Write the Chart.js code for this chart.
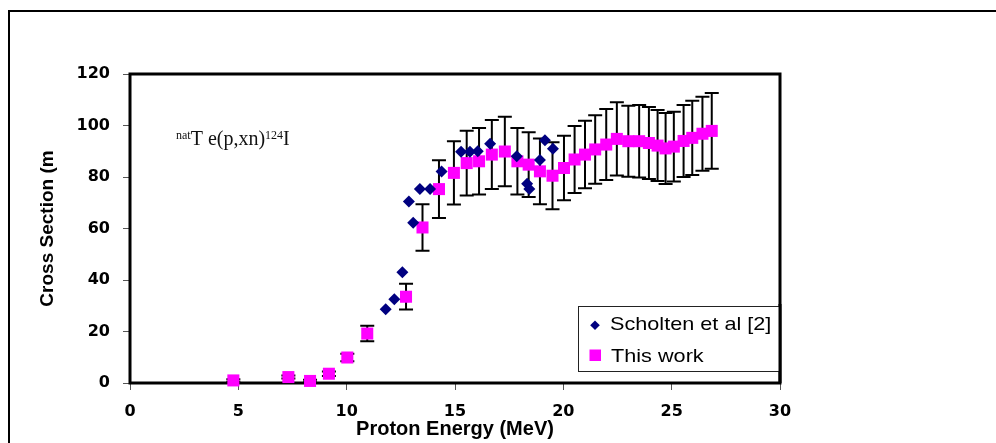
<!DOCTYPE html>
<html>
<head>
<meta charset="utf-8">
<script src="https://cdn.jsdelivr.net/npm/chart.js@4/dist/chart.umd.min.js"></script>
<style>
  html, body { margin: 0; padding: 0; background: #ffffff; overflow: hidden; }
  #wrap { position: relative; width: 996px; height: 443px; overflow: hidden; }
  canvas { display: block; }
</style>
</head>
<body>
<div id="wrap"><canvas id="c" width="996" height="443"></canvas></div>
<script>
// ---- data ----
const scholtenEnergy = [11.8, 12.2, 12.57, 12.87, 13.07, 13.38, 13.85, 14.38, 15.28, 15.69, 16.05, 16.62, 17.85, 18.33, 18.43, 18.92, 19.15, 19.52];
const scholtenXS     = [28.6, 32.5, 43.0, 70.5, 62.2, 75.3, 75.3, 82.1, 89.8, 89.8, 90.0, 92.9, 88.1, 77.4, 75.3, 86.6, 94.3, 91.0];

const thisWorkEnergy = [4.77, 7.31, 8.31, 9.18, 10.03, 10.95, 12.74, 13.5, 14.26, 14.95, 15.54, 16.11, 16.7, 17.3, 17.88, 18.4, 18.92, 19.5, 20.03, 20.52, 21.0, 21.47, 21.98, 22.47, 23.0, 23.5, 23.95, 24.35, 24.72, 25.1, 25.55, 25.95, 26.42, 26.85];
const thisWorkXS     = [1.0, 2.3, 0.8, 3.6, 9.9, 19.2, 33.5, 60.4, 75.3, 81.6, 85.4, 86.1, 88.7, 89.9, 86.1, 84.8, 82.2, 80.5, 83.5, 86.8, 88.7, 90.7, 92.6, 94.8, 93.9, 93.9, 93.2, 92.2, 91.1, 91.8, 94.0, 95.2, 96.8, 97.9];
const thisWorkErr    = [0.5, 0.6, 0.5, 0.9, 1.5, 3, 5, 9, 11.2, 12.3, 12.6, 12.9, 13.4, 13.5, 12.9, 12.6, 12.8, 13, 12.5, 13, 13.1, 13.3, 13.8, 14.2, 13.8, 14.1, 14, 13.8, 13.8, 13.5, 14, 14.4, 14.4, 14.7];

const seriesNames = ['Scholten et al [2]', 'This work'];
const xTitle = 'Proton Energy (MeV)';
const yTitle = 'Cross Section (m';
const reactionLabel = { pre: 'nat', main: 'T e(p,xn)', sup: '124', post: 'I' };

const NAVY = '#000080';
const MAGENTA = '#FF00FF';

function pts(xs, ys) { return xs.map((x, i) => ({ x: x, y: ys[i] })); }

// outer border + plot frame (under the marks)
const framePlugin = {
  id: 'frame',
  beforeDraw(chart) {
    const ctx = chart.ctx;
    ctx.save();
    ctx.fillStyle = '#ffffff';
    ctx.fillRect(0, 0, chart.width, chart.height);
    ctx.strokeStyle = '#000';
    ctx.lineWidth = 2;
    ctx.beginPath();
    ctx.moveTo(9, 460); ctx.lineTo(9, 11); ctx.lineTo(1010, 11);
    ctx.stroke();
    ctx.restore();
  },
  beforeDatasetsDraw(chart) {
    const ctx = chart.ctx, a = chart.chartArea;
    ctx.save();
    ctx.strokeStyle = '#000';
    ctx.lineWidth = 3;
    ctx.strokeRect(a.left, a.top, a.right - a.left, a.bottom - a.top);
    ctx.restore();
  }
};

// error bars for "This work", drawn below its markers
const errorBarPlugin = {
  id: 'errorBars',
  beforeDatasetDraw(chart, args) {
    if (args.index !== 1) return;
    const ctx = chart.ctx, xs = chart.scales.x, ys = chart.scales.y;
    ctx.save();
    ctx.strokeStyle = '#000';
    ctx.lineWidth = 2;
    thisWorkEnergy.forEach((e, i) => {
      const px = xs.getPixelForValue(e);
      const top = ys.getPixelForValue(thisWorkXS[i] + thisWorkErr[i]);
      const bot = ys.getPixelForValue(thisWorkXS[i] - thisWorkErr[i]);
      ctx.beginPath();
      ctx.moveTo(px, top); ctx.lineTo(px, bot);
      ctx.moveTo(px - 7, top); ctx.lineTo(px + 7, top);
      ctx.moveTo(px - 7, bot); ctx.lineTo(px + 7, bot);
      ctx.stroke();
    });
    ctx.restore();
  }
};

// reaction label + legend box
const overlayPlugin = {
  id: 'overlay',
  afterDraw(chart) {
    const ctx = chart.ctx;
    ctx.save();
    // reaction label
    ctx.fillStyle = '#111';
    ctx.textBaseline = 'alphabetic';
    ctx.textAlign = 'left';
    let x = 176;
    ctx.font = '12px "Liberation Serif", "Times New Roman", serif';
    ctx.fillText(reactionLabel.pre, x, 139);
    x += ctx.measureText(reactionLabel.pre).width;
    ctx.font = '20px "Liberation Serif", "Times New Roman", serif';
    ctx.fillText(reactionLabel.main, x, 145);
    x += ctx.measureText(reactionLabel.main).width;
    ctx.font = '12px "Liberation Serif", "Times New Roman", serif';
    ctx.fillText(reactionLabel.sup, x, 139);
    x += ctx.measureText(reactionLabel.sup).width;
    ctx.font = '20px "Liberation Serif", "Times New Roman", serif';
    ctx.fillText(reactionLabel.post, x, 145);

    // legend
    const L = 578, T = 306, R = 780, B = 372;
    ctx.fillStyle = '#fff';
    ctx.fillRect(L, T, R - L, B - T);
    ctx.strokeStyle = '#222';
    ctx.lineWidth = 1;
    ctx.strokeRect(L + 0.5, T + 0.5, R - L - 1, B - T - 1);
    // right frame edge redrawn over legend
    ctx.strokeStyle = '#000';
    ctx.lineWidth = 3;
    ctx.beginPath(); ctx.moveTo(chart.chartArea.right, T - 2); ctx.lineTo(chart.chartArea.right, chart.chartArea.bottom); ctx.stroke();

    // diamond marker
    ctx.fillStyle = NAVY;
    ctx.beginPath();
    ctx.moveTo(595, 320.5); ctx.lineTo(599.8, 325.3); ctx.lineTo(595, 330.1); ctx.lineTo(590.2, 325.3);
    ctx.closePath(); ctx.fill();
    // square marker
    ctx.fillStyle = MAGENTA;
    ctx.fillRect(589.5, 349.5, 11.5, 11.5);

    ctx.fillStyle = '#000';
    ctx.font = '19px "Liberation Sans", Arial, sans-serif';
    ctx.save();
    ctx.translate(610, 329.5);
    ctx.scale(1.14, 1);
    ctx.fillText(seriesNames[0], 0, 0);
    ctx.restore();
    ctx.save();
    ctx.translate(611, 361.8);
    ctx.scale(1.14, 1);
    ctx.fillText(seriesNames[1], 0, 0);
    ctx.restore();
    ctx.restore();
  }
};

const tickFont = { family: '"DejaVu Sans", sans-serif', size: 16, weight: 'bold' };

new Chart(document.getElementById('c'), {
  type: 'scatter',
  data: {
    datasets: [
      {
        label: seriesNames[0],
        data: pts(scholtenEnergy, scholtenXS),
        pointStyle: 'rectRot',
        pointRadius: 6,
        backgroundColor: NAVY,
        borderColor: NAVY,
        borderWidth: 0,
        order: 0,
        clip: false
      },
      {
        label: seriesNames[1],
        data: pts(thisWorkEnergy, thisWorkXS),
        pointStyle: 'rect',
        pointRadius: 8.5,
        backgroundColor: MAGENTA,
        borderColor: MAGENTA,
        borderWidth: 0,
        order: 1,
        clip: false
      }
    ]
  },
  options: {
    responsive: false,
    animation: false,
    devicePixelRatio: 1,
    layout: { padding: { left: 0, top: 74, right: 216, bottom: 0 } },
    plugins: {
      legend: { display: false },
      tooltip: { enabled: false }
    },
    scales: {
      x: {
        type: 'linear', min: 0, max: 30,
        ticks: { stepSize: 5, font: tickFont, color: '#000', padding: 12, maxRotation: 0 },
        grid: { drawOnChartArea: false, drawTicks: true, tickLength: 7, color: '#555', lineWidth: 1 },
        border: { display: false },
        title: { display: true, text: xTitle, color: '#000',
                 font: { family: '"Liberation Sans", Arial, sans-serif', size: 20, weight: 'bold' },
                 padding: { top: 0, bottom: 2 } },
        afterFit(s) { s.height = 60; }
      },
      y: {
        type: 'linear', min: 0, max: 120,
        ticks: { stepSize: 20, font: tickFont, color: '#000', padding: 13 },
        grid: { drawOnChartArea: false, drawTicks: true, tickLength: 7, color: '#555', lineWidth: 1 },
        border: { display: false },
        title: { display: true, text: yTitle, color: '#000',
                 font: { family: '"Liberation Sans", Arial, sans-serif', size: 19, weight: 'bold' },
                 padding: { top: 36, bottom: 0 } },
        afterFit(s) { s.width = 130; }
      }
    }
  },
  plugins: [framePlugin, errorBarPlugin, overlayPlugin]
});
</script>
</body>
</html>
